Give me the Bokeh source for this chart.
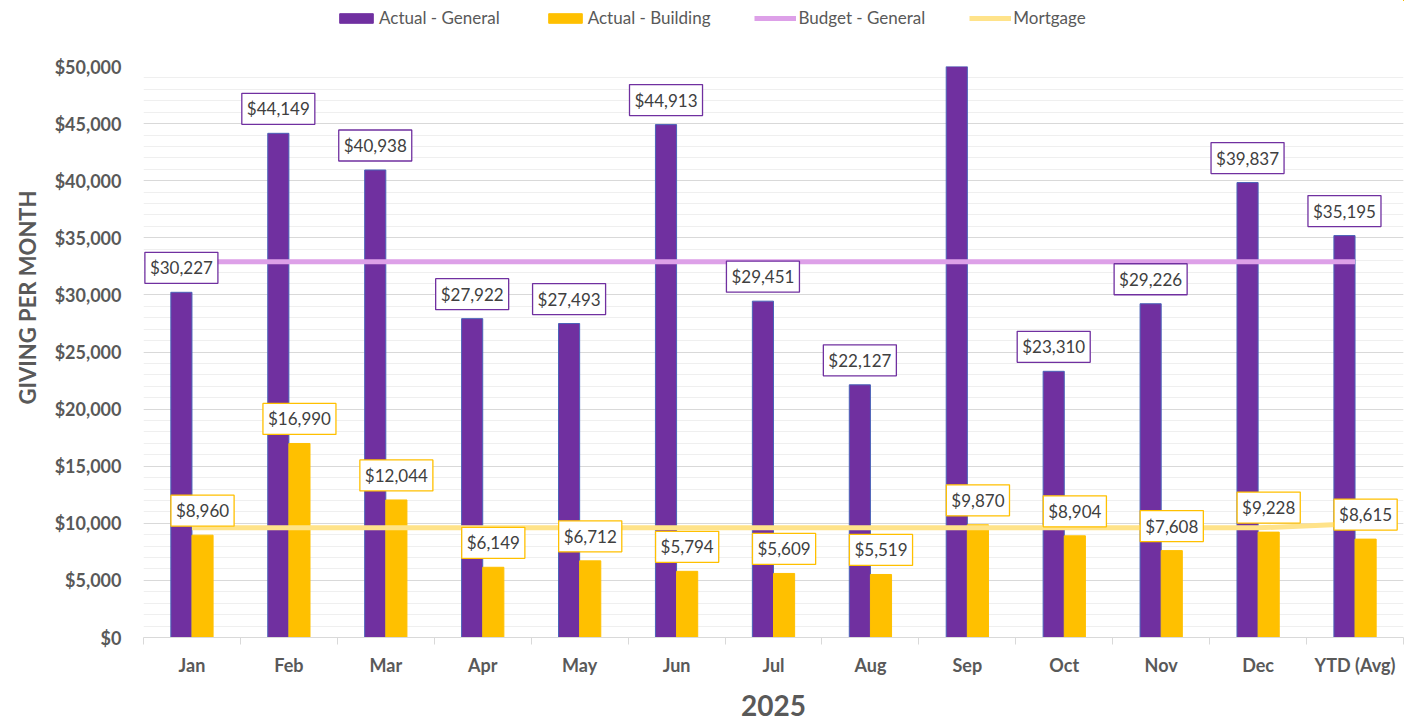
from bokeh.plotting import figure
from bokeh.layouts import column
from bokeh.models import (Range1d, FixedTicker, SingleIntervalTicker, NumeralTickFormatter,
                          Legend, LegendItem, Label, ColumnDataSource, Title)
from bokeh.embed import file_html
from bokeh.resources import INLINE

categories = ["Jan", "Feb", "Mar", "Apr", "May", "Jun", "Jul", "Aug", "Sep", "Oct", "Nov", "Dec", "YTD (Avg)"]
actual_general = [30227, 44149, 40938, 27922, 27493, 44913, 29451, 22127, 62747, 23310, 29226, 39837, 35195]
actual_building = [8960, 16990, 12044, 6149, 6712, 5794, 5609, 5519, 9870, 8904, 7608, 9228, 8615]
budget_general = [32900] * 13
mortgage = [9600] * 12 + [9950]
series_names = ["Actual - General", "Actual - Building", "Budget - General", "Mortgage"]
y_max = 50000
y_step = 5000

PURPLE = "#7030A0"
GOLD = "#FFC000"
BUDGET = "#DDA0E8"
MORT = "#FFE38A"
GRAY = "#595959"
FONT = "Lato"

xs = [i + 0.5 for i in range(len(categories))]
bw = 0.218
src = ColumnDataSource(dict(
    x=xs,
    xg=[v - bw / 2 for v in xs],
    xb=[v + bw / 2 for v in xs],
    gen=actual_general, bld=actual_building, bud=budget_general, mort=mortgage,
))


def draw_series(fig):
    r1 = fig.vbar(x="xg", top="gen", width=bw, source=src, fill_color=PURPLE, line_color="#4A63B8", line_width=1)
    r2 = fig.vbar(x="xb", top="bld", width=bw, source=src, fill_color=GOLD, line_color=GOLD, line_width=1)
    r3 = fig.line(x="x", y="bud", source=src, line_color=BUDGET, line_width=5)
    r4 = fig.line(x="x", y="mort", source=src, line_color=MORT, line_width=5)
    return [r1, r2, r3, r4]


p = figure(width=1413, height=685, x_range=Range1d(0, len(categories)), y_range=Range1d(0, y_max),
           output_backend="svg", toolbar_location=None,
           min_border_left=143, min_border_right=10, min_border_top=26, min_border_bottom=88)
p.outline_line_color = None
p.background_fill_color = "white"
draw_series(p)

# y axis
p.yaxis.ticker = SingleIntervalTicker(interval=y_step, num_minor_ticks=5)
p.yaxis.formatter = NumeralTickFormatter(format="$0,0")
p.yaxis.axis_line_color = None
p.yaxis.major_tick_line_color = None
p.yaxis.minor_tick_line_color = None
p.yaxis.major_tick_out = 0
p.yaxis.major_label_standoff = 18
p.yaxis.major_label_text_font = FONT
p.yaxis.major_label_text_font_style = "bold"
p.yaxis.major_label_text_font_size = "18px"
p.yaxis.major_label_text_color = GRAY

ytitle = Title(text="GIVING PER MONTH", align="right", offset=124, standoff=22,
               text_font=FONT, text_font_style="bold", text_font_size="22px", text_color=GRAY)
p.add_layout(ytitle, "left")

p.ygrid.grid_line_color = "#D9D9D9"
p.ygrid.minor_grid_line_color = "#EFEFEF"
p.xgrid.grid_line_color = None

# x axis
p.xaxis.ticker = FixedTicker(ticks=xs, minor_ticks=list(range(len(categories) + 1)))
p.xaxis.major_label_overrides = {xv: c for xv, c in zip(xs, categories)}
p.xaxis.major_tick_line_color = None
p.xaxis.major_tick_out = 0
p.xaxis.minor_tick_line_color = "#D9D9D9"
p.xaxis.minor_tick_in = 0
p.xaxis.minor_tick_out = 7
p.xaxis.axis_line_color = "#D9D9D9"
p.xaxis.major_label_standoff = 9
p.xaxis.major_label_text_font = FONT
p.xaxis.major_label_text_font_style = "bold"
p.xaxis.major_label_text_font_size = "18px"
p.xaxis.major_label_text_color = GRAY
p.xaxis.axis_label = "2025"
p.xaxis.axis_label_text_font = FONT
p.xaxis.axis_label_text_font_style = "bold"
p.xaxis.axis_label_text_font_size = "28px"
p.xaxis.axis_label_text_color = GRAY
p.xaxis.axis_label_standoff = 16

# data labels
for xv, v in zip(xs, actual_general):
    if v <= y_max:
        p.add_layout(Label(x=xv - bw / 2, y=v, text=f"${v:,}", text_align="center", text_baseline="bottom",
                           y_offset=9, padding=5, background_fill_color="white",
                           border_line_color=PURPLE, border_line_width=1.3,
                           text_font=FONT, text_font_size="17px", text_color="#404040"))
for xv, v in zip(xs, actual_building):
    if v <= y_max:
        p.add_layout(Label(x=xv + bw / 2, y=v, text=f"${v:,}", text_align="center", text_baseline="bottom",
                           y_offset=9, padding=5, background_fill_color="white",
                           border_line_color=GOLD, border_line_width=1.3,
                           text_font=FONT, text_font_size="17px", text_color="#404040"))

# legend strip: same series drawn in a small figure whose ranges keep them out of view
lg = figure(width=1413, height=40, x_range=Range1d(-100, -99), y_range=Range1d(-100, -99),
            output_backend="svg", toolbar_location=None, min_border=0)
lg.axis.visible = False
lg.grid.visible = False
lg.outline_line_color = None
lg_renderers = draw_series(lg)
for r in lg_renderers[:2]:
    r.glyph.line_color = r.glyph.fill_color
legend = Legend(items=[LegendItem(label=n, renderers=[r], index=0) for n, r in zip(series_names, lg_renderers)],
                orientation="horizontal", location=(192, 12))
legend.border_line_color = None
legend.background_fill_alpha = 0
legend.label_text_font = FONT
legend.label_text_font_size = "17px"
legend.label_text_color = GRAY
legend.glyph_width = 42
legend.glyph_height = 12
legend.spacing = 44
legend.label_standoff = 2
legend.padding = 0
legend.margin = 0
lg.add_layout(legend, "center")

open("out.html", "w").write(file_html(column(lg, p, spacing=0), INLINE))
